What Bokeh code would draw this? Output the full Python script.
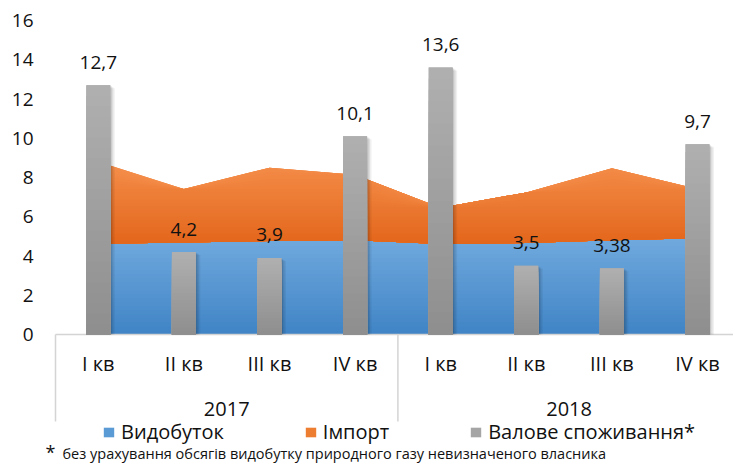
import numpy as np
from bokeh.plotting import figure
from bokeh.models import Range1d, FixedTicker, Legend, LegendItem
from bokeh.core.properties import value
from bokeh.embed import file_html
from bokeh.resources import INLINE

# ---------------- data ----------------
quarters = ["I кв", "II кв", "III кв", "IV кв", "I кв", "II кв", "III кв", "IV кв"]
years = ["2017", "2018"]
production = [4.63, 4.69, 4.76, 4.80, 4.61, 4.66, 4.80, 4.91]      # Видобуток
imports = [4.17, 2.72, 3.74, 3.34, 1.85, 2.58, 3.67, 2.51]         # Імпорт
consumption = [12.7, 4.2, 3.9, 10.1, 13.6, 3.5, 3.38, 9.7]         # Валове споживання*
value_labels = ["12,7", "4,2", "3,9", "10,1", "13,6", "3,5", "3,38", "9,7"]
y_ticks = [0, 2, 4, 6, 8, 10, 12, 14, 16]
series_names = ["Видобуток", "Імпорт", "Валове споживання*"]
footnote = "без урахування обсягів видобутку природного газу невизначеного власника"

# ---------------- layout / style ----------------
W, H = 733, 464
FRAME_LEFT = 45          # px, width of y-axis panel
CAT_PX = 85.6            # px per category
ZERO_Y = 334             # px from top of figure where value 0 sits
TOP_Y = 20               # px from top where value 16 sits
PX = (ZERO_Y - TOP_Y) / 16.0
FONT = "Open Sans"
TEXT = "#111111"
AXIS_GREY = "#d4d4d4"

BLUE_TOP, BLUE_BOT, BLUE_MID = "#70a9dd", "#4084c6", "#5b9bd5"
ORNG_TOP, ORNG_BOT, ORNG_MID = "#f48d4a", "#e3661b", "#ed7d31"
GREY_TOP, GREY_BOT, GREY_MID = "#b0b0b0", "#8e8e8e", "#a5a5a5"
N_LAYERS = 24
BAR_W = 0.28


def lerp(c1, c2, t):
    a = np.array([int(c1[i:i + 2], 16) for i in (1, 3, 5)], float)
    b = np.array([int(c2[i:i + 2], 16) for i in (1, 3, 5)], float)
    c = np.round(a + (b - a) * t).astype(int)
    return "#%02x%02x%02x" % tuple(c)


x = np.arange(len(quarters), dtype=float)
prod = np.array(production)
total = prod + np.array(imports)
cons = np.array(consumption)

x_start = -0.5 - 10.0 / CAT_PX
x_end = x_start + (W - FRAME_LEFT) / CAT_PX
y_end = 16 + TOP_Y / PX
y_start = -(H - ZERO_Y) / PX

p = figure(width=W, height=H, x_range=Range1d(x_start, x_end),
           y_range=Range1d(y_start, y_end), output_backend="svg",
           toolbar_location=None, title=None, x_axis_location=None,
           min_border_left=FRAME_LEFT, min_border_right=0,
           min_border_top=0, min_border_bottom=0)
p.outline_line_color = None
p.xgrid.visible = False
p.ygrid.visible = False
p.background_fill_color = "white"

ax = p.yaxis[0]
ax.ticker = FixedTicker(ticks=y_ticks)
ax.axis_line_color = None
ax.major_tick_line_color = None
ax.minor_tick_line_color = None
ax.major_tick_out = 0
ax.major_tick_in = 0
ax.minor_tick_out = 0
ax.major_label_standoff = 12
ax.major_label_text_font = FONT
ax.major_label_text_font_size = "19px"
ax.major_label_text_color = TEXT

# ---- Видобуток (blue area, vertical gradient) ----
r_blue = p.varea(x=x, y1=np.zeros_like(prod), y2=prod, fill_color=BLUE_MID)
pmax = prod.max()
for k in range(N_LAYERS):
    lvl = pmax * (N_LAYERS - k) / N_LAYERS
    frac = (N_LAYERS - k - 0.5) / N_LAYERS
    p.varea(x=x, y1=np.zeros_like(prod), y2=np.minimum(prod, lvl),
            fill_color=lerp(BLUE_BOT, BLUE_TOP, frac))

# ---- Імпорт (orange area stacked on top) ----
r_orng = p.varea(x=x, y1=prod, y2=total, fill_color=ORNG_MID)
lo, hi = prod.min(), total.max()
for k in range(N_LAYERS):
    lvl = lo + (hi - lo) * (N_LAYERS - k) / N_LAYERS
    frac = (N_LAYERS - k - 0.5) / N_LAYERS
    p.varea(x=x, y1=prod, y2=np.maximum(np.minimum(total, lvl), prod),
            fill_color=lerp(ORNG_BOT, ORNG_TOP, frac))

# ---- x axis line and group separators ----
bounds = np.arange(len(years) + 1) * 4 - 0.5
p.segment(x0=[bounds[0]], y0=[0], x1=[bounds[-1]], y1=[0],
          line_color=AXIS_GREY, line_width=1.5)
p.segment(x0=bounds, y0=np.zeros_like(bounds), x1=bounds,
          y1=np.full_like(bounds, -87 / PX), line_color=AXIS_GREY, line_width=1.5)

# ---- Валове споживання* (grey bars, soft shadow + gradient) ----
for off, alpha in ((3.0, 0.06), (2.0, 0.08), (1.0, 0.10)):
    p.vbar(x=x + off / CAT_PX, top=cons - off / PX, bottom=0,
           width=BAR_W + off / CAT_PX, fill_color="black", fill_alpha=alpha,
           line_color=None)
r_grey = p.vbar(x=x, top=cons, width=BAR_W, fill_color=GREY_MID, line_color=None)
for k in range(N_LAYERS):
    f = (N_LAYERS - k) / N_LAYERS
    frac = (N_LAYERS - k - 0.5) / N_LAYERS
    p.vbar(x=x, bottom=0, top=cons * f, width=BAR_W, line_color=None,
           fill_color=lerp(GREY_BOT, GREY_TOP, frac))

# ---- data labels ----
p.text(x=x, y=cons, text=value_labels, text_font=value(FONT),
       text_font_size="19px", text_color=TEXT, text_align="center",
       text_baseline="middle", y_offset=-23)

# ---- category labels ----
p.text(x=x, y=np.zeros_like(x), text=quarters, text_font=value(FONT),
       text_font_size="20px", text_color=TEXT, text_align="center",
       text_baseline="middle", y_offset=29)
year_x = np.arange(len(years)) * 4 + 1.5
p.text(x=year_x, y=np.zeros_like(year_x), text=years, text_font=value(FONT),
       text_font_size="20px", text_color=TEXT, text_align="center",
       text_baseline="middle", y_offset=74)

# ---- footnote ----
p.text(x=[x_start], y=[0], text=["*"], text_font=value(FONT),
       text_font_size="18px", text_color=TEXT, text_align="left",
       text_baseline="middle", x_offset=0, y_offset=117)
p.text(x=[x_start], y=[0], text=[footnote], text_font=value(FONT),
       text_font_size="14.5px", text_color=TEXT, text_align="left",
       text_baseline="middle", x_offset=17, y_offset=119)

# ---- legend ----
legend = Legend(items=[LegendItem(label=series_names[0], renderers=[r_blue]),
                       LegendItem(label=series_names[1], renderers=[r_orng]),
                       LegendItem(label=series_names[2], renderers=[r_grey])],
                orientation="horizontal", location=(57, 19), spacing=80,
                glyph_width=13, glyph_height=12, label_standoff=6,
                padding=0, margin=0, border_line_color=None,
                background_fill_alpha=0, label_text_font=FONT,
                label_text_font_size="20px", label_text_color=TEXT,
                label_height=20)
p.add_layout(legend)

open("out.html", "w").write(file_html(p, INLINE))
